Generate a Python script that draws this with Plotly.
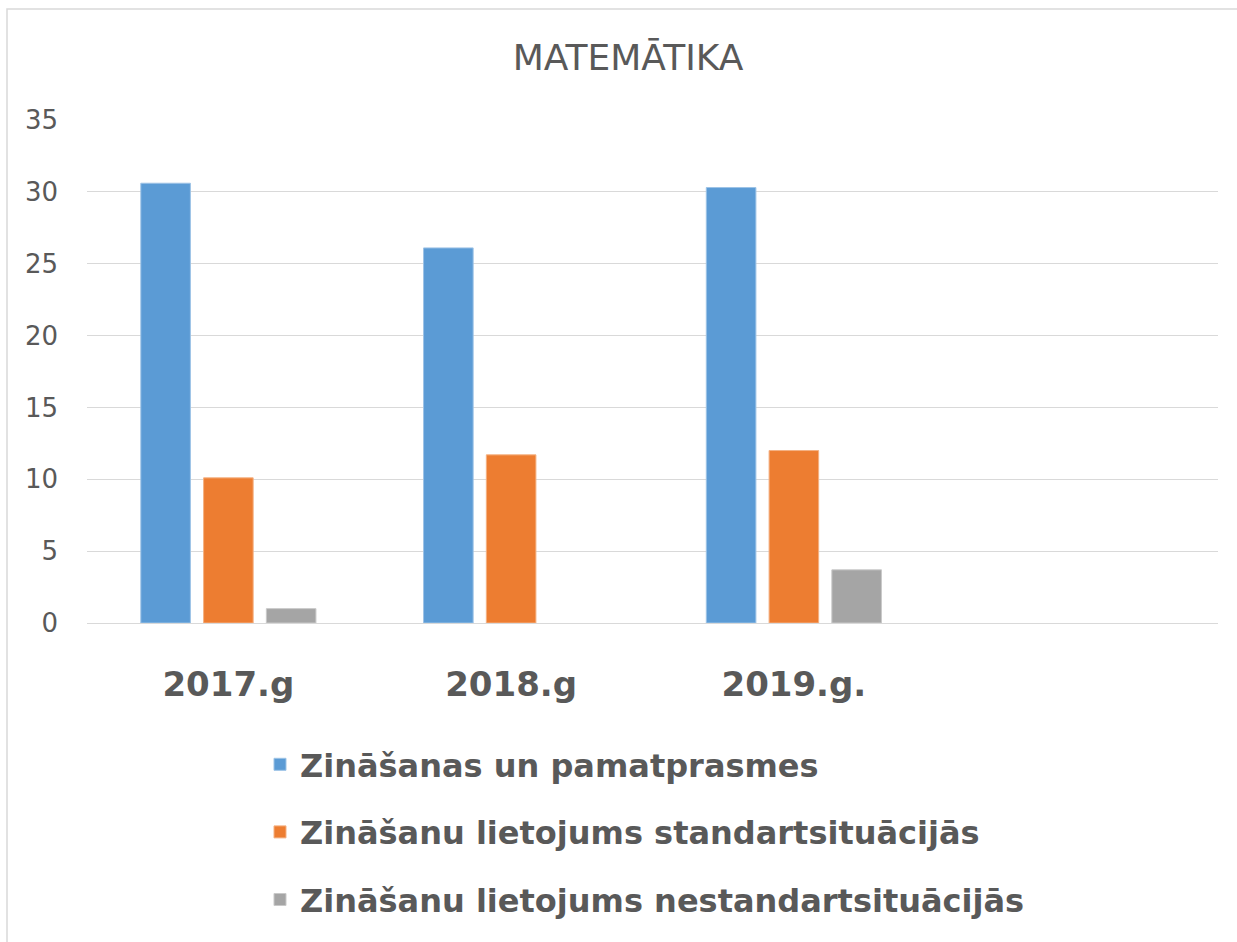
import plotly.graph_objects as go

categories = ["2017.g", "2018.g", "2019.g."]
series_names = [
    "Zināšanas un pamatprasmes",
    "Zināšanu lietojums standartsituācijās",
    "Zināšanu lietojums nestandartsituācijās",
]
basic_skills = [30.6, 26.1, 30.3]
standard_use = [10.1, 11.7, 12.0]
nonstandard_use = [1.0, None, 3.7]
y_ticks = [0, 5, 10, 15, 20, 25, 30, 35]
title_text = "MATEMĀTIKA"

colors = ["#5B9BD5", "#ED7D31", "#A5A5A5"]
edge = ["#9DC3E6", "#F4B183", "#C9C9C9"]
text_color = "#595959"
grid_color = "#D9D9D9"
FONT = "DejaVu Sans"

W, H = 1237, 942
L, R, T, B = 87, 19, 120, 319

fig = go.Figure()
for name, vals, c, e in zip(series_names, [basic_skills, standard_use, nonstandard_use], colors, edge):
    fig.add_trace(go.Bar(
        x=categories, y=vals, name=name, legendgroup=name,
        marker=dict(color=c, line=dict(color=e, width=1)),
    ))

pw = W - L - R
ph = H - T - B

def px(x):
    return (x - L) / pw

def py(y):
    return (H - B - y) / ph

fig.update_layout(
    width=W, height=H,
    margin=dict(l=L, r=R, t=T, b=B, autoexpand=False),
    paper_bgcolor="white", plot_bgcolor="white",
    barmode="group", bargap=0.334, bargroupgap=0.21,
    font=dict(family=FONT, color=text_color),
    title=dict(text=title_text, x=px(628), xanchor="center", xref="paper",
               y=1 - 57 / H, yanchor="middle",
               font=dict(family=FONT, size=36, color=text_color)),
    xaxis=dict(type="category", range=[-0.5, 3.5], showgrid=False,
               showline=False, zeroline=False, ticks="",
               ticklabelstandoff=38,
               tickfont=dict(family=FONT, size=34, color=text_color, weight="bold")),
    yaxis=dict(range=[0, 35], tickvals=y_ticks, showgrid=True,
               gridcolor=grid_color, gridwidth=1.3, zeroline=True,
               zerolinecolor=grid_color, zerolinewidth=1.3,
               showline=False, ticks="", ticklabelstandoff=28,
               tickfont=dict(family=FONT, size=26, color=text_color)),
    legend=dict(orientation="v", x=px(260), xanchor="left",
                y=py(737), yanchor="top", tracegroupgap=23,
                bgcolor="rgba(0,0,0,0)",
                font=dict(family=FONT, size=32, color=text_color, weight="bold")),
    shapes=[dict(type="rect", xref="paper", yref="paper",
                 x0=px(7), x1=px(1260), y0=py(960), y1=py(9),
                 line=dict(color=grid_color, width=1.5), layer="below")],
)

fig.write_html("out.html", config={"displayModeBar": False},
               post_script="document.body.style.margin='0';")
